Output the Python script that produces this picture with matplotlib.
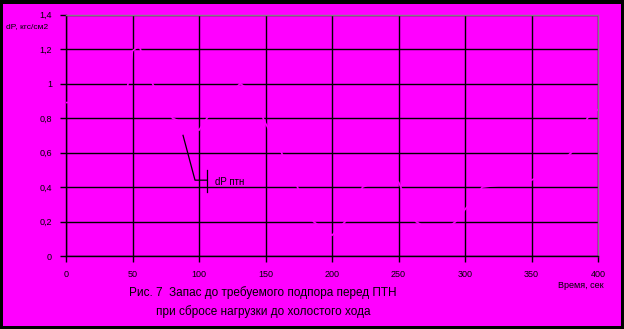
import matplotlib
matplotlib.use("Agg")
import matplotlib.pyplot as plt
from matplotlib.patches import Rectangle

plt.rcParams["font.family"] = ["Liberation Sans", "DejaVu Sans"]

# hidden series (drawn in background colour, visible only as gaps in the grid)
t_sec = [0, 20, 45, 50, 55, 65, 80, 100, 106, 120, 131, 140, 147, 150, 162, 174,
         186, 200, 210, 223, 240, 250, 263, 280, 293, 300, 313, 335, 350, 365, 380, 392, 400]
dp = [0.89, 0.90, 0.91, 1.19, 1.22, 1.00, 0.80, 0.73, 0.80, 0.92, 1.00, 0.95, 0.82, 0.77,
      0.60, 0.40, 0.20, 0.12, 0.20, 0.40, 0.45, 0.43, 0.20, 0.12, 0.20, 0.27, 0.40, 0.42,
      0.44, 0.50, 0.60, 0.80, 0.85]
x_ticks = [0, 50, 100, 150, 200, 250, 300, 350, 400]
y_ticks = [0, 0.2, 0.4, 0.6, 0.8, 1.0, 1.2, 1.4]
y_labels = ["0", "0,2", "0,4", "0,6", "0,8", "1", "1,2", "1,4"]

W, H = 624, 329
fig = plt.figure(figsize=(W / 100, H / 100), dpi=100, facecolor="black")
fig.patches.append(Rectangle((3 / W, 3 / H), 618 / W, 322 / H, transform=fig.transFigure,
                             facecolor="#FF00FF", edgecolor="none", zorder=-5))

ax = fig.add_axes([66 / W, (H - 256) / H, 532 / W, 241.3 / H])
ax.set_facecolor("#FF00FF")
ax.set_xlim(0, 400)
ax.set_ylim(0, 1.4)
ax.set_xticks(x_ticks)
ax.set_yticks(y_ticks)
ax.set_xticklabels([str(v) for v in x_ticks])
ax.set_yticklabels(y_labels)
ax.tick_params(labelsize=6.5, length=4, width=1, color="black", direction="out", pad=6)
ax.grid(True, color="black", linewidth=1)
ax.set_axisbelow(True)
for s in ["left", "bottom"]:
    ax.spines[s].set_color("black")
    ax.spines[s].set_linewidth(1)
for s in ["top", "right"]:
    ax.spines[s].set_color("#808080")
    ax.spines[s].set_linewidth(1)

ax.plot(t_sec, dp, color="#FF00FF", linewidth=1.2, zorder=3)

# label with leader line
ax.plot([88, 97, 106], [0.70, 0.44, 0.44], color="black", linewidth=0.9, zorder=4)
ax.plot([106, 106], [0.37, 0.50], color="black", linewidth=0.9, zorder=4)
ax.text(112, 0.43, "dP птн", fontsize=7, va="center", ha="left", zorder=5)

fig.text(6 / W, 1 - 27 / H, "dP, кгс/см2", fontsize=6, va="center", ha="left")
fig.text(604 / W, 1 - 286 / H, "Время, сек", fontsize=6.5, va="center", ha="right")
fig.text(263 / W, 1 - 293 / H, "Рис. 7  Запас до требуемого подпора перед ПТН",
         fontsize=8.5, va="center", ha="center")
fig.text(263 / W, 1 - 312 / H, "при сбросе нагрузки до холостого хода",
         fontsize=8.5, va="center", ha="center")

fig.savefig("out.png", dpi=100, facecolor=fig.get_facecolor())
